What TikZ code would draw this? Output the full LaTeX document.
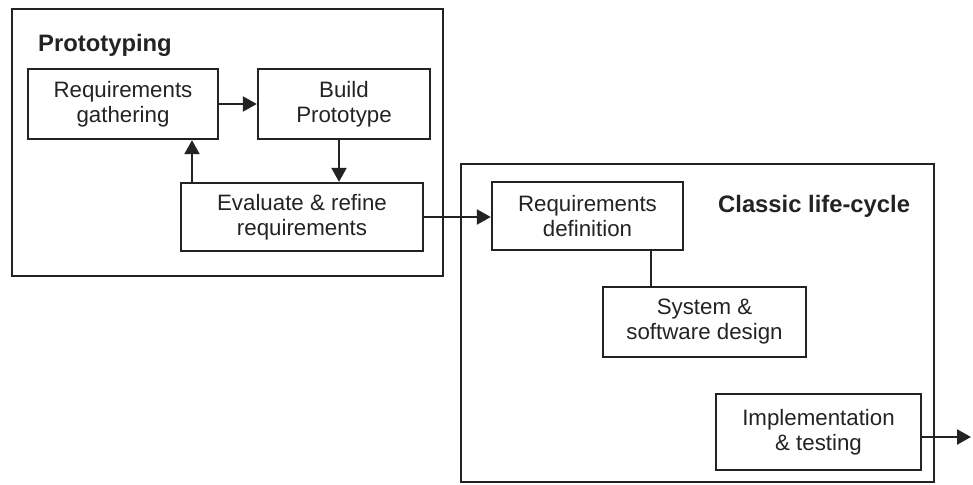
\documentclass[tikz,border=0pt]{standalone}
\usepackage{fontspec}
\setmainfont{Liberation Sans}
\usetikzlibrary{arrows.meta}
\definecolor{ink}{RGB}{35,35,35}
\tikzset{
  box/.style={draw=ink, line width=2.4pt, inner sep=0pt, align=center, text=ink,
    font=\fontsize{22.3}{25}\selectfont},
  frame/.style={draw=ink, line width=2.4pt, inner sep=0pt},
  ttl/.style={anchor=west, inner sep=0pt, text=ink, font=\fontsize{23.8}{27}\selectfont\bfseries},
  conn/.style={draw=ink, line width=2.4pt},
  arr/.style={conn, -{Triangle[length=14pt,width=15pt]}}
}
\begin{document}
\begin{tikzpicture}[x=1pt,y=-1pt]
\useasboundingbox (0,0) rectangle (973,484);
% frames
\node[frame, minimum width=431pt, minimum height=267pt] (protoframe) at (227.5,142.5) {};
\node[frame, minimum width=473pt, minimum height=318pt] (classicframe) at (697.5,323) {};
% titles
\node[ttl] (prototitle) at (38,45) {Prototyping};
\node[ttl] (classictitle) at (718,206) {Classic life-cycle};
% prototyping boxes
\node[box, minimum width=190pt, minimum height=70pt] (req) at (123,104) {Requirements\\gathering};
\node[box, minimum width=172pt, minimum height=70pt] (build) at (344,104) {Build\\Prototype};
\node[box, minimum width=242pt, minimum height=68pt] (eval) at (302,217) {Evaluate \& refine\\requirements};
% classic boxes
\node[box, minimum width=191pt, minimum height=68pt] (reqdef) at (587.5,216) {Requirements\\definition};
\node[box, minimum width=203pt, minimum height=70pt] (sys) at (704.5,322) {System \&\\software design};
\node[box, minimum width=205pt, minimum height=76pt] (impl) at (818.5,432) {Implementation\\\& testing};
% helper coordinates
\coordinate (xup) at (192,0);
\coordinate (xdown) at (339,0);
\coordinate (xsys) at (651,0);
\coordinate (yout) at (0,437);
\coordinate (outend) at (971,437);
% connectors
\draw[arr] (req.east) -- (build.west);
\draw[arr] (build.south -| xdown) -- (eval.north -| xdown);
\draw[arr] (eval.north -| xup) -- (req.south -| xup);
\draw[arr] (eval.east) -- (eval.east -| reqdef.west);
\draw[conn] (reqdef.south -| xsys) -- (sys.north -| xsys);
\draw[arr] (impl.east |- yout) -- (outend);
\end{tikzpicture}
\end{document}
